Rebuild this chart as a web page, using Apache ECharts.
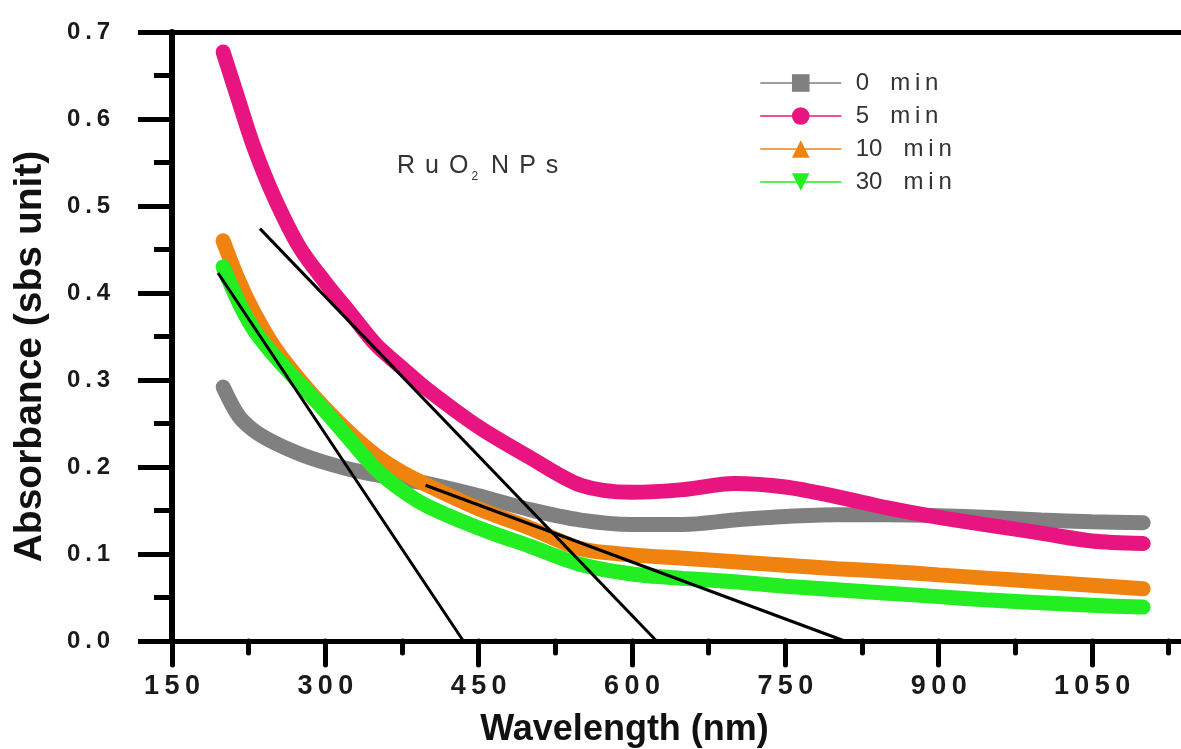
<!DOCTYPE html>
<html>
<head>
<meta charset="utf-8">
<script src="https://cdn.jsdelivr.net/npm/echarts@6/dist/echarts.min.js"></script>
<style>html,body{margin:0;padding:0;background:#fff}#c{width:1181px;height:749px}</style>
</head>
<body>
<div id="c"></div>
<script>
// ---- data ----
var wavelengths = [200, 215, 230, 250, 275, 300, 325, 350, 375, 400, 450, 500, 550, 600, 650, 700, 750, 800, 850, 900, 950, 1000, 1050, 1100];
var abs0min  = [0.292, 0.259, 0.242, 0.228, 0.215, 0.205, 0.197, 0.191, 0.186, 0.181, 0.167, 0.151, 0.139, 0.134, 0.134, 0.139, 0.143, 0.145, 0.145, 0.144, 0.142, 0.139, 0.137, 0.136];
var abs5min  = [0.677, 0.622, 0.568, 0.510, 0.452, 0.412, 0.376, 0.340, 0.314, 0.289, 0.246, 0.211, 0.179, 0.171, 0.174, 0.181, 0.177, 0.166, 0.153, 0.142, 0.133, 0.124, 0.115, 0.112];
var abs10min = [0.460, 0.415, 0.378, 0.338, 0.300, 0.267, 0.238, 0.213, 0.194, 0.179, 0.152, 0.130, 0.106, 0.099, 0.095, 0.091, 0.087, 0.083, 0.080, 0.076, 0.072, 0.068, 0.064, 0.060];
var abs30min = [0.430, 0.390, 0.358, 0.328, 0.296, 0.264, 0.230, 0.197, 0.173, 0.155, 0.130, 0.109, 0.088, 0.077, 0.072, 0.068, 0.063, 0.059, 0.055, 0.051, 0.047, 0.044, 0.041, 0.039];
var fitA = [[195, 0.423], [435, 0]];
var fitB = [[236, 0.474], [624, 0]];
var fitC = [[398, 0.179], [808, 0]];
var seriesNames = ['0 min', '5 min', '10 min', '30 min'];
var xMajorTicks = [150, 300, 450, 600, 750, 900, 1050];
var xMinorTicks = [225, 375, 525, 675, 825, 975, 1125];

var FONT = 'Arial, "Liberation Sans", sans-serif';
var TS = '\u2009';
function spaced(s) { return String(s).split('').join(TS); }
function pairs(xs, ys) { return xs.map(function (x, i) { return [x, ys[i]]; }); }

var chart = echarts.init(document.getElementById('c'));
var curveCommon = { type: 'line', smooth: 0.3, showSymbol: false, symbolSize: 14 };
var tickStyle = { color: '#000', width: 5, cap: 'round' };
var LW = 15;

chart.setOption({
  animation: false,
  backgroundColor: '#fff',
  textStyle: { fontFamily: FONT },
  grid: { left: 172, right: 0, top: 32, bottom: 108, outerBoundsMode: 'none', containLabel: false },
  title: {
    text: '{a|R' + TS + TS + 'u' + TS + TS + 'O}{s|2}{a|' + TS + TS + 'N' + TS + TS + 'P' + TS + TS + 's}',
    left: 397, top: 149, padding: 0,
    textStyle: {
      fontWeight: 'normal',
      rich: {
        a: { fontSize: 25, lineHeight: 34, color: '#333', fontWeight: 'normal', fontFamily: FONT },
        s: { fontSize: 12, lineHeight: 12, verticalAlign: 'bottom', color: '#333', fontWeight: 'normal', fontFamily: FONT, padding: [0, 3, 0, 3] }
      }
    }
  },
  legend: {
    orient: 'vertical', left: 760, top: 71, padding: 0,
    itemWidth: 80, itemHeight: 22, itemGap: 9,
    data: seriesNames,
    lineStyle: { width: 1.5 },
    formatter: function (n) { return n.replace(' ', TS + ' ' + TS).split(' ').map(function (p, i) { return i === 1 ? spaced(p) : p; }).join(' '); },
    textStyle: { fontSize: 24, color: '#333', fontFamily: FONT, padding: [0, 0, 0, 10] }
  },
  xAxis: [
    {
      type: 'value', position: 'bottom', min: 150, max: 1137, interval: 150,
      axisLine: { show: true, onZero: false, lineStyle: { color: '#000', width: 5 } },
      axisTick: { show: true, customValues: xMajorTicks, length: 24, lineStyle: tickStyle },
      axisLabel: { customValues: xMajorTicks, fontSize: 27, fontWeight: 'bold', color: '#1a1a1a', margin: 32, fontFamily: FONT,
        formatter: function (v) { return spaced(v); } },
      splitLine: { show: false },
      name: 'Wavelength (nm)', nameLocation: 'middle', nameGap: 71,
      nameTextStyle: { fontSize: 36, fontWeight: 'bold', color: '#111', fontFamily: FONT, padding: [0, 104, 0, 0] }
    },
    {
      type: 'value', position: 'bottom', min: 150, max: 1137, interval: 150,
      axisLine: { show: false, onZero: false },
      axisTick: { show: true, customValues: xMinorTicks, length: 12, lineStyle: tickStyle },
      axisLabel: { show: false },
      splitLine: { show: false }
    },
    {
      type: 'value', position: 'top', min: 150, max: 1137, interval: 150,
      axisLine: { show: true, onZero: false, lineStyle: { color: '#000', width: 5 } },
      axisTick: { show: false }, axisLabel: { show: false }, splitLine: { show: false }
    }
  ],
  yAxis: {
    type: 'value', min: 0, max: 0.7, interval: 0.1,
    axisLine: { show: true, onZero: false, lineStyle: { color: '#000', width: 6 } },
    axisTick: { show: true, length: 34, lineStyle: { color: '#000', width: 5 } },
    minorTick: { show: true, splitNumber: 2, length: 18, lineStyle: { color: '#000', width: 5 } },
    splitLine: { show: false }, minorSplitLine: { show: false },
    axisLabel: { fontSize: 24, fontWeight: 'bold', color: '#1a1a1a', margin: 62, fontFamily: FONT,
      formatter: function (v) { return spaced(v.toFixed(1)); } },
    name: 'Absorbance (sbs unit)', nameLocation: 'middle', nameGap: 122,
    nameTextStyle: { fontSize: 39, fontWeight: 'bold', color: '#111', fontFamily: FONT, padding: [0, 40, 0, 0] }
  },
  series: [
    Object.assign({}, curveCommon, { name: seriesNames[0], symbol: 'rect', color: '#808080',
      lineStyle: { width: LW, cap: 'round', color: '#808080' }, data: pairs(wavelengths, abs0min) }),
    Object.assign({}, curveCommon, { name: seriesNames[1], symbol: 'circle', color: '#e8147f',
      lineStyle: { width: LW, cap: 'round', color: '#e8147f' }, data: pairs(wavelengths, abs5min) }),
    Object.assign({}, curveCommon, { name: seriesNames[2], symbol: 'triangle', color: '#f0820f',
      lineStyle: { width: LW, cap: 'round', color: '#f0820f' }, data: pairs(wavelengths, abs10min) }),
    Object.assign({}, curveCommon, { name: seriesNames[3], symbol: 'triangle', symbolRotate: 180, color: '#22ee22',
      lineStyle: { width: LW, cap: 'round', color: '#22ee22' }, data: pairs(wavelengths, abs30min) }),
    { type: 'line', name: 'fitA', symbol: 'none', lineStyle: { width: 3, color: '#000' }, data: fitA, z: 5 },
    { type: 'line', name: 'fitB', symbol: 'none', lineStyle: { width: 3, color: '#000' }, data: fitB, z: 5 },
    { type: 'line', name: 'fitC', symbol: 'none', lineStyle: { width: 3, color: '#000' }, data: fitC, z: 5 }
  ]
});
</script>
</body>
</html>
